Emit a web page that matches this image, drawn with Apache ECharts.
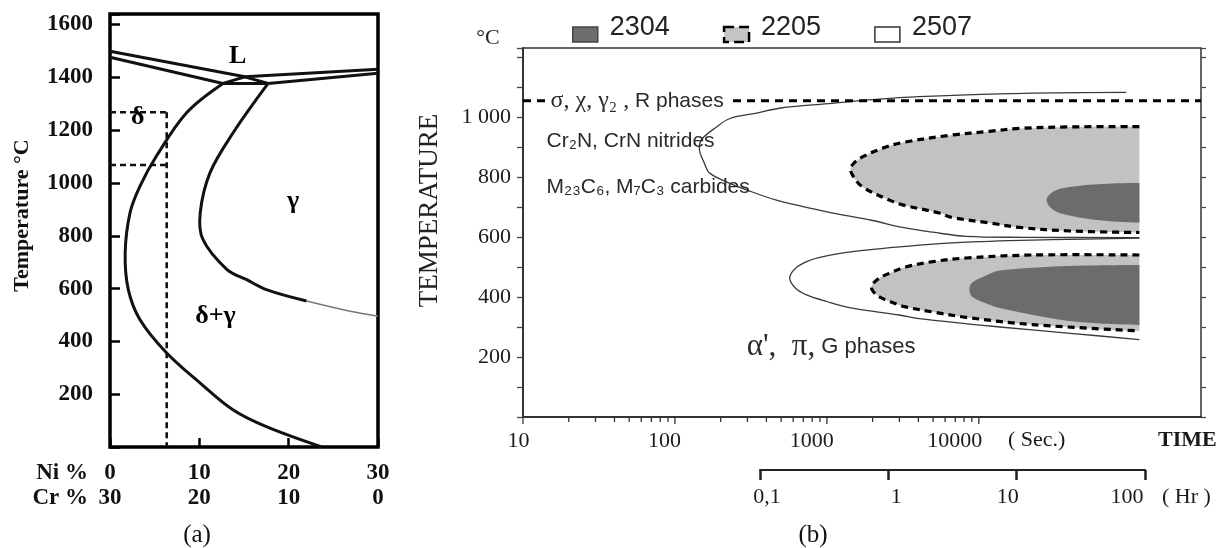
<!DOCTYPE html>
<html><head><meta charset="utf-8">
<script src="https://cdn.jsdelivr.net/npm/echarts@6/dist/echarts.min.js"></script>
<style>html,body{margin:0;padding:0;background:#fff}#c{width:1229px;height:548px}</style>
</head><body><div id="c"></div>
<script>
// ================= DATA =================
// ---- Panel (a): Fe-Cr-Ni section, x = Ni % (Cr % = complementary row), y = temperature °C
const niTickValues = [0, 10, 20, 30];
const niTickLabels = ['0', '10', '20', '30'];
const crTickLabels = ['30', '20', '10', '0'];
const tempTickValuesA = [200, 400, 600, 800, 1000, 1200, 1400, 1600];

const liqUpperLeft  = [[0, 1499], [15.1, 1402]];
const liqLowerLeft  = [[0, 1476], [12.65, 1377]];
const lensLeft      = [[12.65, 1377], [15.1, 1402]];
const lensFloor     = [[12.65, 1377], [17.7, 1377]];
const lensRight     = [[15.1, 1402], [17.7, 1377]];
const liqUpperRight = [[15.1, 1402], [30, 1431]];
const liqLowerRight = [[17.7, 1377], [30, 1416]];
const deltaBoundary = [[12.65, 1377], [8.6, 1267], [5.2, 1102], [3.36, 988], [2.24, 887], [1.7, 735],
                       [2.05, 596], [3.36, 482], [6.35, 356], [10.1, 242], [13.8, 140], [17.5, 77], [23.7, 0]];
const gammaBoundary = [[17.7, 1377], [13.8, 1191], [11.2, 1039], [10.1, 887], [10.4, 786], [13.1, 672],
                       [15.3, 634], [17.5, 596], [22, 553]];
const gammaTail     = [[22, 553], [26.9, 514], [30, 495]];
const dashVertical  = [[6.35, 1268], [6.35, 0]];
const dashTop       = [[0, 1268], [6.35, 1268]];
const dashBottom    = [[0, 1068], [6.35, 1068]];
const phaseLabelsA  = ['L', 'δ', 'γ', 'δ+γ'];
const phaseAnchorsA = [[14.3, 1481], [3.1, 1249], [20.5, 930], [11.8, 494]];

// ---- Panel (b): precipitation (TTT) diagram, x = time (s, log), y = temperature °C
const secTickValues = [10, 100, 1000, 10000];
const secTickLabels = ['10', '100', '1000', '10000'];
const hrTickValues  = [0.1, 1, 10, 100];
const hrTickLabels  = ['0,1', '1', '10', '100'];
const tempTickValuesB = [200, 400, 600, 800, 1000];
const tempTickLabelsB = ['200', '400', '600', '800', '1 000'];

const c2507Upper = [[93500, 1082], [20000, 1079], [4060, 1068], [2000, 1058], [935, 1043], [500, 1030],
                    [344, 1013], [230, 995], [188, 967], [150, 925], [145, 890], [155, 850], [169, 813],
                    [220, 783], [296, 757], [466, 723], [1000, 684], [2000, 655], [3150, 632], [5000, 616],
                    [8280, 602], [20000, 599], [114000, 598]];
const c2507Lower = [[114000, 596], [30000, 591], [8280, 583], [4060, 573], [1473, 551], [900, 532], [735, 518],
                    [620, 495], [569, 463], [620, 430], [735, 407], [1000, 385], [1473, 363], [3000, 340],
                    [4060, 328], [13700, 300], [40000, 279], [114000, 258]];
const r2205Upper = [[114000, 968], [40000, 967], [18500, 962], [11700, 952], [6700, 940], [3150, 915],
                    [2300, 895], [1714, 867], [1500, 845], [1430, 826], [1500, 800], [1714, 767], [2580, 723],
                    [3150, 707], [5500, 680], [6700, 665], [11700, 647], [18500, 632], [40000, 620], [114000, 615]];
const r2205Lower = [[114000, 540], [22500, 540], [8280, 530], [5000, 518], [3300, 500], [2600, 480],
                    [2150, 458], [1963, 432], [2150, 405], [2600, 385], [3300, 367], [5000, 350], [8280, 332],
                    [22500, 308], [114000, 287]];
const r2304Upper = [[114000, 780], [65000, 777], [39500, 767], [31000, 752], [27900, 723], [31000, 690],
                    [39500, 672], [65000, 655], [114000, 648]];
const r2304Lower = [[114000, 507], [50000, 505], [29200, 501], [13700, 488], [11000, 470], [9000, 447],
                    [8670, 425], [9000, 402], [11000, 380], [13700, 363], [29200, 330], [50000, 315], [114000, 307]];
const sigmaLimit = [[10, 1054], [290000, 1054]];
const phaseTextsB   = ['{g|σ, χ, γ₂ ,} R phases', 'Cr₂N, CrN nitrides', 'M₂₃C₆, M₇C₃ carbides', "{g|α',  π,} G phases"];
const phaseAnchorsB = [[14.3, 1054], [14.3, 920], [14.3, 767], [297, 234]];
const legendNames = ['2304', '2205', '2507'];

// ================= RENDER =================
const SERIF = '"Liberation Serif", "Times New Roman", serif';
const SANS = '"Liberation Sans", Arial, sans-serif';
const BOX = [[1e9, 1e9], [-1e9, -1e9]];

// minor log ticks of the seconds axis (2..9 per decade)
const secMinor = [];
secTickValues.slice(0, -1).forEach(d => { for (let k = 2; k <= 9; k++) secMinor.push(k * d); });

function near(a, b) { return Math.abs(Math.log10(a) - Math.log10(b)) < 1e-6; }

function curve(pts, xi, yi, style, smooth, name) {
  return {
    type: 'custom', name: name, coordinateSystem: 'cartesian2d', xAxisIndex: xi, yAxisIndex: yi,
    data: pts, silent: true, z: 2,
    renderItem(params, api) {
      if (params.dataIndex !== 0) return null;
      return { type: 'polyline', shape: { points: pts.map(p => api.coord(p)), smooth: smooth || 0 },
               style: Object.assign({ fill: null, lineCap: 'butt', lineJoin: 'round' }, style) };
    }
  };
}
function region(name, pts, fill, outline) {
  return {
    type: 'custom', name: name, coordinateSystem: 'cartesian2d', xAxisIndex: 1, yAxisIndex: 1,
    data: pts, silent: true, z: 2,
    renderItem(params, api) {
      if (params.dataIndex !== 0) return null;
      const px = pts.map(p => api.coord(p));
      const children = [{ type: 'polygon', shape: { points: px, smooth: 0.35, smoothConstraint: BOX },
                          style: { fill: fill, stroke: null } }];
      if (outline) children.push({ type: 'polyline', shape: { points: px, smooth: 0.35 },
                                   style: Object.assign({ fill: null }, outline) });
      return { type: 'group', children: children };
    }
  };
}
function ticks(values, len) {
  return {
    type: 'custom', xAxisIndex: 1, yAxisIndex: 1, silent: true,
    data: values.map(v => [v, 0]),
    renderItem(params, api) {
      const p = api.coord([api.value(0), 0]);
      return { type: 'line', shape: { x1: p[0], y1: p[1], x2: p[0], y2: p[1] + len },
               style: { stroke: '#333', lineWidth: 1.3 } };
    }
  };
}

const blackThick = { stroke: '#111', lineWidth: 3 };
const dashA = { stroke: '#111', lineWidth: 2.6, lineDash: [6, 4] };
const thin = { stroke: '#3a3a3a', lineWidth: 1.3 };
const dash2205 = { stroke: '#000', lineWidth: 3.2, lineDash: [7, 5] };

const secRich = {}, hrRich = {};
const secPad = [[0, 9, 0, 0], [0, 21, 0, 0], [0, 30, 0, 0], [0, 48, 0, 0]];
const hrPad = [[0, 0, 0, 14], [0, 0, 0, 16], [0, 18, 0, 0], [0, 36, 0, 0]];
secTickLabels.forEach((_, i) => secRich['s' + i] = { padding: secPad[i], fontFamily: SERIF, fontSize: 22, color: '#1a1a1a' });
hrTickLabels.forEach((_, i) => hrRich['h' + i] = { padding: hrPad[i], fontFamily: SERIF, fontSize: 22, color: '#1a1a1a' });

const option = {
  backgroundColor: '#fff',
  animation: false,
  grid: [
    { left: 110, top: 14, width: 268, height: 433, show: true, borderColor: '#000', borderWidth: 3.5, backgroundColor: 'transparent' },
    { left: 523, top: 48, width: 678, height: 369, show: true, borderColor: '#333', borderWidth: 1.5, backgroundColor: 'transparent' },
    { left: 760, top: 469, width: 385, height: 1 }
  ],
  xAxis: [
    { gridIndex: 0, type: 'value', min: 0, max: 30, interval: 10,
      axisLine: { show: false }, splitLine: { show: false },
      axisTick: { show: true, inside: true, length: 9, lineStyle: { color: '#000', width: 2.5 } },
      axisLabel: { margin: 14, formatter: v => { const i = niTickValues.indexOf(v);
                     return i < 0 ? '' : '{n|' + niTickLabels[i] + '}\n{n|' + crTickLabels[i] + '}'; },
                   rich: { n: { fontFamily: SERIF, fontWeight: 'bold', fontSize: 23, lineHeight: 25, color: '#111' } } } },
    { gridIndex: 1, type: 'log', logBase: 10, min: 10, max: 290000,
      axisLine: { show: true, lineStyle: { color: '#333', width: 2 } }, splitLine: { show: false },
      axisTick: { show: false },
      axisLabel: { margin: 13, formatter: v => { const i = secTickValues.findIndex(t => near(t, v));
                     return i < 0 ? '' : '{s' + i + '|' + secTickLabels[i] + '}'; }, rich: secRich } },
    { gridIndex: 2, type: 'log', logBase: 10, min: 0.1, max: 100,
      axisLine: { show: true, lineStyle: { color: '#222', width: 2 } }, splitLine: { show: false },
      axisTick: { show: true, inside: false, length: 10, lineStyle: { color: '#222', width: 2.5 } },
      axisLabel: { margin: 16, formatter: v => { const i = hrTickValues.findIndex(t => near(t, v));
                     return i < 0 ? '' : '{h' + i + '|' + hrTickLabels[i] + '}'; }, rich: hrRich } }
  ],
  yAxis: [
    { gridIndex: 0, type: 'value', min: 0, max: 1640, interval: 200,
      name: 'Temperature °C', nameLocation: 'middle', nameRotate: 90, nameGap: 77,
      nameTextStyle: { fontFamily: SERIF, fontWeight: 'bold', fontSize: 22, color: '#111', padding: [0, 0, 0, 30] },
      axisLine: { show: false }, splitLine: { show: false },
      axisTick: { show: true, inside: true, length: 10, lineStyle: { color: '#000', width: 2.5 } },
      axisLabel: { margin: 17, fontFamily: SERIF, fontWeight: 'bold', fontSize: 23, color: '#111',
                   formatter: v => tempTickValuesA.indexOf(v) < 0 ? '' : String(v) } },
    { gridIndex: 1, type: 'value', min: 0, max: 1230, interval: 200,
      name: 'TEMPERATURE', nameLocation: 'middle', nameRotate: 90, nameGap: 80,
      nameTextStyle: { fontFamily: SERIF, fontSize: 27, color: '#222', padding: [0, 0, 0, 44] },
      axisLine: { show: true, lineStyle: { color: '#333', width: 2 } }, splitLine: { show: false },
      axisTick: { show: true, inside: false, length: 6, lineStyle: { color: '#444', width: 1.3 } },
      minorTick: { show: true, splitNumber: 2, length: 6, lineStyle: { color: '#444', width: 1.3 } },
      minorSplitLine: { show: false },
      axisLabel: { margin: 12, fontFamily: SERIF, fontSize: 22, color: '#1a1a1a',
                   formatter: v => { const i = tempTickValuesB.indexOf(v); return i < 0 ? '' : tempTickLabelsB[i]; } } },
    { gridIndex: 1, type: 'value', position: 'right', min: 0, max: 1230, interval: 200,
      axisLine: { show: false }, splitLine: { show: false }, axisLabel: { show: false },
      axisTick: { show: true, inside: false, length: 5, lineStyle: { color: '#444', width: 1.2 } },
      minorTick: { show: true, splitNumber: 2, length: 5, lineStyle: { color: '#444', width: 1.2 } } },
    { gridIndex: 2, type: 'value', min: 0, max: 1, show: false }
  ],
  legend: {
    left: 572, top: 14, padding: 0, itemWidth: 25, itemHeight: 15, itemGap: 53, icon: 'rect',
    selectedMode: false,
    formatter: '{t|{name}}',
    textStyle: { fontFamily: SANS, fontSize: 27, color: '#222',
                 rich: { t: { fontFamily: SANS, fontSize: 27, color: '#222', padding: [0, 0, 14, 7] } } },
    data: [
      { name: legendNames[0], itemStyle: { color: '#6e6e6e', borderColor: '#444', borderWidth: 1.5 } },
      { name: legendNames[1], itemStyle: { color: '#c4c4c4', borderColor: '#000', borderWidth: 2.5, borderType: 'dashed' } },
      { name: legendNames[2], itemStyle: { color: '#fff', borderColor: '#333', borderWidth: 1.5 } }
    ]
  },
  series: [
    // panel (a)
    curve(liqUpperLeft, 0, 0, blackThick), curve(liqLowerLeft, 0, 0, blackThick),
    curve(lensLeft, 0, 0, blackThick), curve(lensFloor, 0, 0, blackThick), curve(lensRight, 0, 0, blackThick),
    curve(liqUpperRight, 0, 0, blackThick), curve(liqLowerRight, 0, 0, blackThick),
    curve(deltaBoundary, 0, 0, blackThick, 0.35), curve(gammaBoundary, 0, 0, blackThick, 0.35),
    curve(gammaTail, 0, 0, { stroke: '#777', lineWidth: 1.6 }, 0.35),
    curve(dashVertical, 0, 0, dashA), curve(dashTop, 0, 0, dashA), curve(dashBottom, 0, 0, dashA),
    { type: 'scatter', xAxisIndex: 0, yAxisIndex: 0, silent: true, symbolSize: 0, z: 10,
      itemStyle: { color: '#000', opacity: 1 },
      label: { show: true, position: [0, 0], align: 'center', verticalAlign: 'middle', opacity: 1,
               fontFamily: SERIF, fontWeight: 'bold', fontSize: 26, color: '#000', textBorderWidth: 0,
               formatter: p => phaseLabelsA[p.dataIndex] },
      data: phaseAnchorsA },
    // panel (b)
    region(legendNames[1], r2205Upper, '#c2c2c2', dash2205),
    region(legendNames[1], r2205Lower, '#c2c2c2', dash2205),
    region(legendNames[0], r2304Upper, '#6c6c6c', null),
    region(legendNames[0], r2304Lower, '#6c6c6c', null),
    curve(c2507Upper, 1, 1, thin, 0.35, legendNames[2]),
    curve(c2507Lower, 1, 1, thin, 0.35, legendNames[2]),
    curve(sigmaLimit, 1, 1, { stroke: '#000', lineWidth: 3, lineDash: [8, 6] }),
    ticks(secMinor, 5), ticks(secTickValues, 7),
    { type: 'scatter', xAxisIndex: 1, yAxisIndex: 1, silent: true, symbolSize: 0, z: 10,
      itemStyle: { color: '#000', opacity: 1 },
      label: { show: true, position: 'right', distance: 0, fontFamily: SANS, fontSize: 21, color: '#2a2a2a',
               opacity: 1, textBorderWidth: 0, formatter: p => phaseTextsB[p.dataIndex],
               rich: { g: { fontFamily: SERIF, fontSize: 24, color: '#2a2a2a' } } },
      data: phaseAnchorsB.map((a, i) => i === 0
        ? { value: a, label: { backgroundColor: '#fff', padding: [2, 4, 2, 4] } }
        : (i === 3 ? { value: a, label: { fontSize: 22, rich: { g: { fontFamily: SERIF, fontSize: 31, color: '#2a2a2a' } } } } : a)) }
  ],
  graphic: [
    { type: 'text', x: 88, y: 473, style: { text: 'Ni %', font: 'bold 23px ' + SERIF, fill: '#111', textAlign: 'right', align: 'right', textVerticalAlign: 'middle', verticalAlign: 'middle' } },
    { type: 'text', x: 88, y: 498, style: { text: 'Cr %', font: 'bold 23px ' + SERIF, fill: '#111', textAlign: 'right', align: 'right', textVerticalAlign: 'middle', verticalAlign: 'middle' } },
    { type: 'text', x: 197, y: 535, style: { text: '(a)', font: '25px ' + SERIF, fill: '#111', textAlign: 'center', align: 'center', textVerticalAlign: 'middle', verticalAlign: 'middle' } },
    { type: 'text', x: 813, y: 535, style: { text: '(b)', font: '25px ' + SERIF, fill: '#111', textAlign: 'center', align: 'center', textVerticalAlign: 'middle', verticalAlign: 'middle' } },
    { type: 'text', x: 488, y: 38, style: { text: '°C', font: '22px ' + SERIF, fill: '#222', textAlign: 'center', align: 'center', textVerticalAlign: 'middle', verticalAlign: 'middle' } },
    { type: 'text', x: 1008, y: 440, style: { text: '( Sec.)', font: '22px ' + SERIF, fill: '#1a1a1a', textAlign: 'left', align: 'left', textVerticalAlign: 'middle', verticalAlign: 'middle' } },
    { type: 'text', x: 1158, y: 440, style: { text: 'TIME', font: 'bold 22px ' + SERIF, fill: '#1a1a1a', textAlign: 'left', align: 'left', textVerticalAlign: 'middle', verticalAlign: 'middle' } },
    { type: 'text', x: 1162, y: 497, style: { text: '( Hr )', font: '22px ' + SERIF, fill: '#1a1a1a', textAlign: 'left', align: 'left', textVerticalAlign: 'middle', verticalAlign: 'middle' } }
  ]
};

const chart = echarts.init(document.getElementById('c'), null, { renderer: 'canvas', width: 1229, height: 548 });
chart.setOption(option);
</script>
</body></html>
